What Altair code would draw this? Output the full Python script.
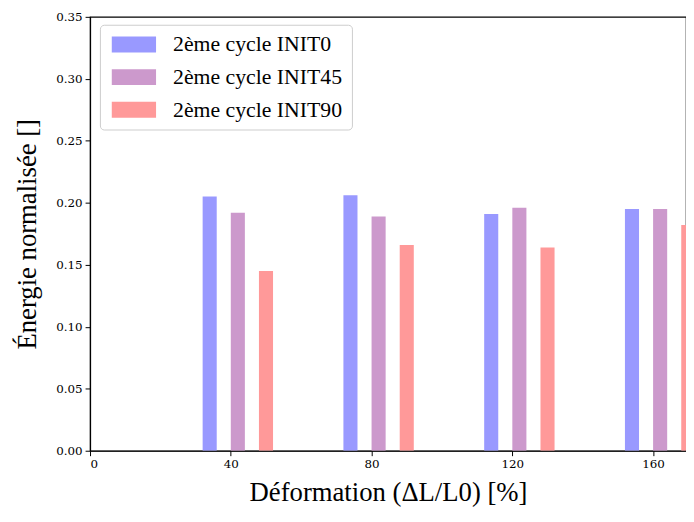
import altair as alt
import pandas as pd

# Data
deformation = [40, 80, 120, 160]
series = ["2ème cycle INIT0", "2ème cycle INIT45", "2ème cycle INIT90"]
init0 = [0.205, 0.206, 0.191, 0.195]
init45 = [0.192, 0.189, 0.196, 0.195]
init90 = [0.145, 0.166, 0.164, 0.182]
colors = ["#9999ff", "#cc99cc", "#ff9999"]
x_ticks = [0, 40, 80, 120, 160]
y_ticks = [0.0, 0.05, 0.10, 0.15, 0.20, 0.25, 0.30, 0.35]

# bar layout (style)
offsets = [-8, 0, 8]
bar_w = 4

rows = []
for s, vals, off in zip(series, [init0, init45, init90], offsets):
    for d, v in zip(deformation, vals):
        rows.append({"series": s, "x0": d + off, "x1": d + off + bar_w, "energy": v})
df = pd.DataFrame(rows)

FONT = "Liberation Serif"
LFONT = "DejaVu Serif"

# wide rectangle swatch: symbol size 256 -> unit = 8px; width 5.6 units = 45px, height 2 units = 16px
legend_shape = "M-1,-1L4.6,-1L4.6,1L-1,1Z"

chart = alt.Chart(df).mark_bar(clip=True, cornerRadius=0).encode(
    x=alt.X(
        "x0:Q",
        scale=alt.Scale(domain=[0, 169.35], nice=False, zero=False),
        axis=alt.Axis(values=x_ticks, format="d", title="Déformation (ΔL/L0) [%]",
                      titlePadding=10),
    ),
    x2="x1",
    y=alt.Y(
        "energy:Q",
        scale=alt.Scale(domain=[0, 0.35], nice=False),
        axis=alt.Axis(values=y_ticks, format=".2f", title="Énergie normalisée []",
                      titlePadding=14),
    ),
    y2=alt.datum(0),
    color=alt.Color(
        "series:N",
        scale=alt.Scale(domain=series, range=colors),
        title=None,
        legend=alt.Legend(
            orient="none",
            legendX=10,
            legendY=8,
            symbolType=legend_shape,
            symbolSize=256,
            symbolStrokeWidth=0,
            symbolOpacity=1,
            labelFont=FONT,
            labelFontSize=22,
            labelColor="black",
            labelOffset=43,
            labelLimit=400,
            rowPadding=11,
            padding=9,
            strokeColor="#cccccc",
            fillColor="white",
            cornerRadius=4,
        ),
    ),
).properties(
    width=603,
    height=439,
    autosize=alt.AutoSizeParams(type="none"),
    padding={"left": 83, "top": 6, "right": 0, "bottom": 55},
).configure_view(
    stroke="black", strokeWidth=1.2
).configure_axis(
    grid=False,
    domainColor="black",
    domainWidth=1.2,
    tickColor="black",
    tickSize=5,
    tickWidth=1,
    labelFont=LFONT,
    labelFontSize=12,
    labelColor="black",
    labelPadding=3,
    titleFont=FONT,
    titleFontSize=27,
    titleFontWeight="normal",
    titleColor="black",
)

chart.save("out.html", embed_options={"renderer": "svg", "actions": False})
